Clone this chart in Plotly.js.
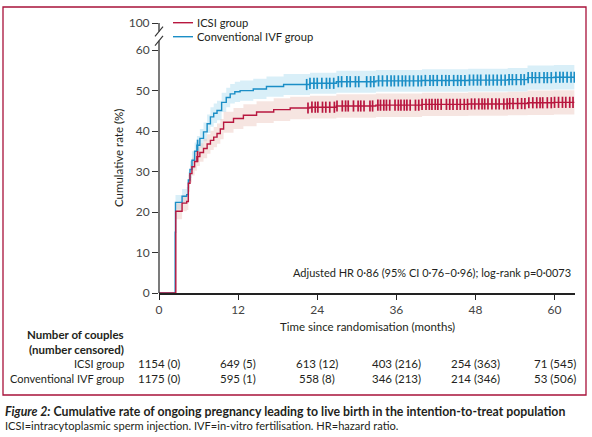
<!DOCTYPE html>
<html>
<head>
<meta charset="utf-8">
<script src="https://cdn.plot.ly/plotly-3.0.1.min.js"></script>
<style>
  html, body { margin: 0; padding: 0; background: #fff; }
  #myDiv { width: 592px; height: 437px; }
</style>
</head>
<body>
<div id="myDiv"></div>
<script>
// step curves (months, cumulative %)
var ivfTime = [0, 2.45, 2.5, 3.5, 4.2, 4.45, 4.7, 5.0, 5.4, 5.75, 6.2, 6.75, 7.3, 7.8, 8.3, 8.8, 9.5, 10.2, 10.8, 11.5, 12.3, 14.3, 16.3, 18.9, 22.9, 26.9, 32.9, 39.9, 46.9, 52.9, 55.9, 59.9, 63];
var ivfRate = [0, 15, 22.4, 23.9, 24.3, 27.9, 30.5, 32.8, 35, 36.5, 38.2, 39.8, 41.8, 43.5, 44.4, 45.1, 47.1, 48.3, 49.2, 49.7, 50.0, 50.4, 51.0, 51.5, 51.8, 52.2, 52.4, 52.5, 52.6, 52.7, 53.2, 53.3, 53.3];
var ivfLow  = [0, 13.5, 20.6, 22.1, 22.4, 25.9, 28.4, 30.6, 32.8, 34.2, 35.9, 37.5, 39.5, 41.1, 42.0, 42.7, 44.7, 45.9, 46.8, 47.2, 47.5, 47.9, 48.5, 48.9, 49.2, 49.5, 49.7, 49.7, 49.8, 49.8, 50.2, 50.3, 50.3];
var ivfHigh = [0, 16.5, 24.2, 25.7, 26.2, 29.9, 32.6, 35.0, 37.2, 38.8, 40.5, 42.1, 44.1, 45.9, 46.8, 47.5, 49.5, 50.7, 51.6, 52.2, 52.5, 52.9, 53.5, 54.1, 54.4, 54.9, 55.1, 55.3, 55.4, 55.6, 56.2, 56.3, 56.3];

var icsiTime = [0, 2.55, 3.5, 4.2, 4.45, 4.7, 5.0, 5.4, 5.75, 6.2, 6.75, 7.3, 7.8, 8.3, 8.8, 9.3, 9.8, 11.3, 12.8, 14.8, 17.4, 19.9, 22.9, 26.9, 32.9, 39.9, 46.9, 52.9, 55.9, 59.9, 63];
var icsiRate = [0, 20.2, 22.2, 22.6, 27.1, 29.5, 31.2, 32.5, 33.7, 34.7, 35.7, 36.8, 37.7, 38.5, 39.4, 40.5, 42.2, 43.1, 43.9, 44.7, 45.3, 45.7, 45.9, 46.2, 46.4, 46.6, 46.7, 46.8, 47.0, 47.1, 47.1];
var icsiLow  = [0, 18.2, 20.2, 20.5, 25.0, 27.3, 29.0, 30.2, 31.4, 32.4, 33.3, 34.4, 35.3, 36.0, 36.9, 38.0, 39.6, 40.5, 41.2, 42.0, 42.5, 42.9, 43.1, 43.3, 43.5, 43.7, 43.8, 43.9, 44.0, 44.1, 44.1];
var icsiHigh = [0, 22.2, 24.2, 24.7, 29.2, 31.7, 33.4, 34.8, 36.0, 37.0, 38.1, 39.2, 40.1, 41.0, 41.9, 43.0, 44.8, 45.7, 46.6, 47.4, 48.1, 48.5, 48.7, 49.1, 49.3, 49.5, 49.6, 49.7, 50.0, 50.1, 50.1];

// censoring times (months)
var icsiCensor = [5.85, 22.6, 23.2, 23.7, 24.1, 24.8, 25.3, 25.9, 26.6, 27.0, 27.8, 28.3, 28.7, 29.5, 30.2, 30.6, 31.1, 32.0, 32.4, 33.2, 33.6, 34.1, 34.5, 35.0, 35.8, 36.3, 36.7, 37.2, 37.6, 38.1, 38.9, 39.4, 39.9, 40.5, 41.0, 41.4, 41.9, 42.3, 42.8, 43.6, 44.1, 44.6, 45.2, 45.7, 46.3, 46.8, 47.4, 47.9, 48.5, 49.0, 49.4, 49.9, 50.5, 51.1, 51.6, 52.3, 52.8, 53.2, 53.7, 54.4, 55.0, 55.5, 56.1, 56.7, 57.3, 57.8, 58.2, 58.9, 59.5, 60.0, 60.6, 61.2, 61.7, 62.3, 62.8];
var ivfCensor = [5.85, 22.4, 22.9, 23.5, 24.0, 24.7, 25.4, 25.9, 26.5, 27.2, 27.7, 28.5, 29.0, 29.8, 30.3, 31.5, 32.1, 32.6, 33.3, 33.9, 34.6, 35.2, 35.7, 36.3, 36.9, 37.4, 38.0, 38.6, 39.3, 39.8, 40.4, 41.1, 41.6, 42.2, 42.9, 43.5, 44.0, 44.7, 45.3, 45.8, 46.4, 47.1, 47.7, 48.3, 48.8, 49.6, 50.1, 50.7, 51.3, 51.9, 52.5, 53.1, 53.6, 54.2, 54.9, 55.4, 56.0, 56.6, 57.1, 57.7, 58.4, 58.9, 59.5, 60.2, 60.8, 61.3, 61.9, 62.5, 63.0];

// number at risk table
var riskTicks = [0, 12, 24, 36, 48, 60];
var icsiAtRisk = [1154, 649, 613, 403, 254, 71];
var icsiCensored = [0, 5, 12, 216, 363, 545];
var ivfAtRisk = [1175, 595, 558, 346, 214, 53];
var ivfCensored = [0, 1, 8, 213, 346, 506];

var yTickVals = [0, 10, 20, 30, 40, 50, 60, 66.7];
var yTickText = ['0', '10', '20', '30', '40', '50', '60', '100'];

var icsiName = 'ICSI group';
var ivfName = 'Conventional IVF group';

var RED = '#b8173f';
var BLUE = '#1b8ec6';
var INK = '#231f20';
var FONT = 'Lato, "Liberation Sans", sans-serif';

// plot box in pixels
var L = 159, T = 23, W = 416, H = 270;
function px(x) { return (x - L) / W; }
function py(y) { return (T + H - y) / H; }

function stepAt(t, times, vals) {
  var v = vals[0];
  for (var i = 0; i < times.length; i++) {
    if (times[i] <= t) v = vals[i];
  }
  return v;
}

function band(times, lo, hi, color) {
  return [
    { x: times, y: lo, type: 'scatter', mode: 'lines', line: { width: 0, shape: 'hv' },
      hoverinfo: 'skip', showlegend: false },
    { x: times, y: hi, type: 'scatter', mode: 'lines', line: { width: 0, shape: 'hv' },
      fill: 'tonexty', fillcolor: color, hoverinfo: 'skip', showlegend: false }
  ];
}

var data = []
  .concat(band(ivfTime, ivfLow, ivfHigh, 'rgba(160,215,238,0.40)'))
  .concat(band(icsiTime, icsiLow, icsiHigh, 'rgba(232,190,180,0.40)'));

data.push({
  x: ivfTime, y: ivfRate, type: 'scatter', mode: 'lines', name: ivfName,
  line: { color: BLUE, width: 1.4, shape: 'hv' }, showlegend: false
});
data.push({
  x: icsiTime, y: icsiRate, type: 'scatter', mode: 'lines', name: icsiName,
  line: { color: RED, width: 1.4, shape: 'hv' }, showlegend: false
});
data.push({
  x: ivfCensor, y: ivfCensor.map(function (t) { return stepAt(t, ivfTime, ivfRate); }),
  type: 'scatter', mode: 'markers', showlegend: false, hoverinfo: 'skip',
  marker: { symbol: 'line-ns-open', size: 8, color: BLUE, line: { color: BLUE, width: 1.7 } }
});
data.push({
  x: icsiCensor, y: icsiCensor.map(function (t) { return stepAt(t, icsiTime, icsiRate); }),
  type: 'scatter', mode: 'markers', showlegend: false, hoverinfo: 'skip',
  marker: { symbol: 'line-ns-open', size: 8, color: RED, line: { color: RED, width: 1.7 } }
});

var annotations = [];
function note(text, x, y, anchor, size, extra) {
  var a = {
    text: text, xref: 'paper', yref: 'paper', x: x, y: y,
    xanchor: anchor, yanchor: 'middle', showarrow: false,
    font: { family: FONT, size: size, color: INK }
  };
  for (var k in extra) a[k] = extra[k];
  annotations.push(a);
}

// axis titles and note
note('Time since randomisation (months)', px(367), py(326), 'center', 11.5);
note('Cumulative rate (%)', px(118), py(158), 'center', 11.5, { textangle: -90 });
note('Adjusted HR 0·86 (95% CI 0·76–0·96); log-rank p=0·0073', px(573), py(272), 'right', 11);

// legend
note(icsiName, px(195), py(22.7), 'left', 11.2);
note(ivfName, px(195), py(36.7), 'left', 11.2);

// number at risk table
note('<b>Number of couples</b>', px(126), py(334), 'right', 11.5);
note('<b>(number censored)</b>', px(126), py(349), 'right', 11.5);
note(icsiName, px(126), py(363), 'right', 11);
note(ivfName, px(126), py(378), 'right', 11);
riskTicks.forEach(function (t, i) {
  annotations.push({
    text: icsiAtRisk[i] + ' (' + icsiCensored[i] + ')', xref: 'x', yref: 'paper',
    x: t, y: py(363), xanchor: 'center', yanchor: 'middle', showarrow: false,
    font: { family: FONT, size: 11.5, color: INK }
  });
  annotations.push({
    text: ivfAtRisk[i] + ' (' + ivfCensored[i] + ')', xref: 'x', yref: 'paper',
    x: t, y: py(378), xanchor: 'center', yanchor: 'middle', showarrow: false,
    font: { family: FONT, size: 11.5, color: INK }
  });
});

// caption
note('<b><i>Figure 2:</i> Cumulative rate of ongoing pregnancy leading to live birth in the intention-to-treat population</b>',
  px(3), py(411), 'left', 12.3);
note('ICSI=intracytoplasmic sperm injection. IVF=in-vitro fertilisation. HR=hazard ratio.',
  px(3), py(425), 'left', 11.1);

var shapes = [
  // figure frame
  { type: 'rect', xref: 'paper', yref: 'paper', x0: px(3), x1: px(586), y0: py(395), y1: py(7),
    line: { color: '#a8123a', width: 1.3 } },
  // broken y axis
  { type: 'line', xref: 'paper', yref: 'y', x0: 0, x1: 0, y0: 0, y1: 62.3,
    line: { color: '#333', width: 1.3 } },
  { type: 'line', xref: 'paper', yref: 'y', x0: 0, x1: 0, y0: 64.6, y1: 66.7,
    line: { color: '#333', width: 1.3 } },
  { type: 'line', xref: 'paper', yref: 'y', xsizemode: 'pixel', xanchor: 0,
    x0: -4, x1: 4, y0: 61.1, y1: 63.5, line: { color: '#333', width: 1.1 } },
  { type: 'line', xref: 'paper', yref: 'y', xsizemode: 'pixel', xanchor: 0,
    x0: -4, x1: 4, y0: 63.4, y1: 65.8, line: { color: '#333', width: 1.1 } },
  // legend samples
  { type: 'line', xref: 'paper', yref: 'paper', x0: px(173), x1: px(193), y0: py(22.7), y1: py(22.7),
    line: { color: RED, width: 1.4 } },
  { type: 'line', xref: 'paper', yref: 'paper', x0: px(173), x1: px(193), y0: py(36.7), y1: py(36.7),
    line: { color: BLUE, width: 1.4 } }
];

var layout = {
  width: 592,
  height: 437,
  margin: { l: L, r: 592 - L - W, t: T, b: 437 - T - H },
  paper_bgcolor: '#ffffff',
  plot_bgcolor: '#ffffff',
  font: { family: FONT, size: 12, color: INK },
  showlegend: false,
  xaxis: {
    range: [0, 63.1],
    tickvals: riskTicks,
    ticks: 'outside', ticklen: 5, tickcolor: '#222', tickwidth: 1,
    showline: true, linecolor: '#222', linewidth: 2,
    showgrid: false, zeroline: false,
    tickfont: { family: FONT, size: 12, color: '#444' }
  },
  yaxis: {
    range: [0, 66.7],
    tickvals: yTickVals, ticktext: yTickText,
    ticks: 'outside', ticklen: 6, tickcolor: '#333', tickwidth: 1,
    showline: false, showgrid: false, zeroline: false,
    tickfont: { family: FONT, size: 12, color: '#444' }
  },
  annotations: annotations,
  shapes: shapes
};

Plotly.newPlot('myDiv', data, layout, { displayModeBar: false, staticPlot: true });
</script>
</body>
</html>
